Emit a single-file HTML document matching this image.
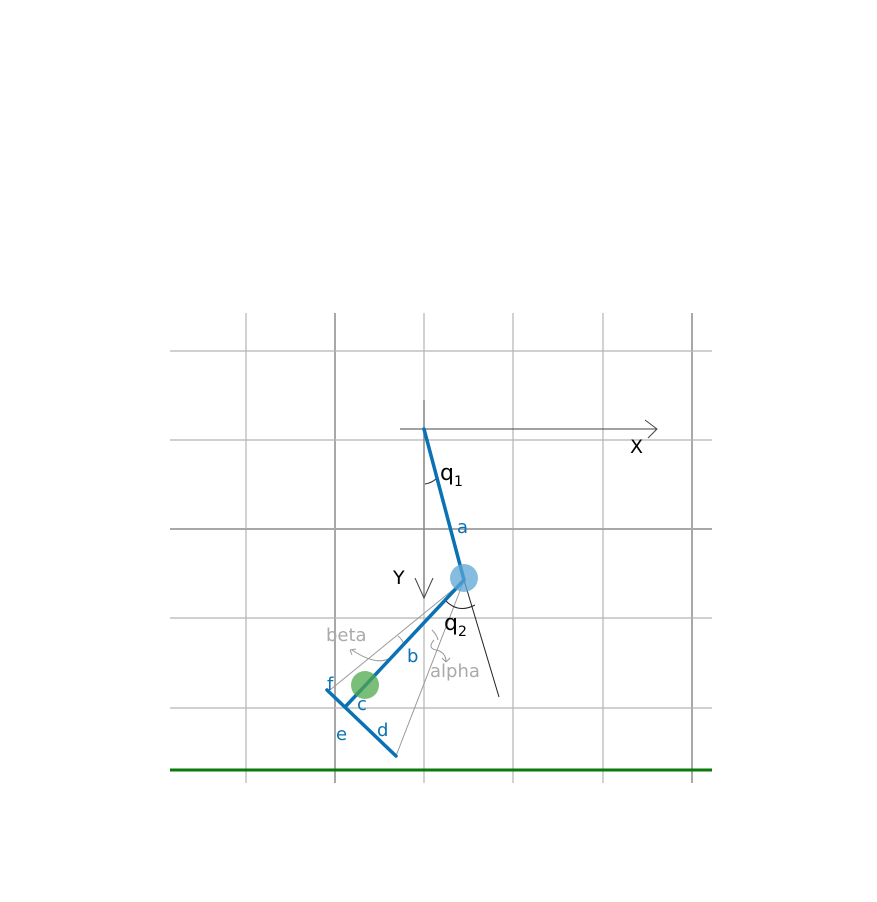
<!DOCTYPE html>
<html><head><meta charset="utf-8"><style>
html,body{margin:0;padding:0;background:#fff;}
svg{display:block;font-family:"DejaVu Sans","Liberation Sans",sans-serif;}
</style></head><body>
<svg width="877" height="902" viewBox="0 0 877 902">
<g stroke="#b4b4b4" stroke-width="1.2">
<line x1="246" y1="313" x2="246" y2="783"/>
<line x1="335" y1="313" x2="335" y2="783" stroke="#a8a8a8" stroke-width="2"/>
<line x1="424" y1="313" x2="424" y2="783"/>
<line x1="513" y1="313" x2="513" y2="783"/>
<line x1="603" y1="313" x2="603" y2="783"/>
<line x1="692" y1="313" x2="692" y2="783" stroke="#a8a8a8" stroke-width="2"/>
<line x1="170" y1="351" x2="712" y2="351"/>
<line x1="170" y1="440" x2="712" y2="440"/>
<line x1="170" y1="529" x2="712" y2="529" stroke="#a8a8a8" stroke-width="2"/>
<line x1="170" y1="618" x2="712" y2="618"/>
<line x1="170" y1="708" x2="712" y2="708"/>
</g>
<line x1="170" y1="770" x2="712" y2="770" stroke="#0a7a0a" stroke-width="3"/>
<g stroke="#444" stroke-width="1" fill="none">
<line x1="424" y1="400" x2="424" y2="598" stroke="#888" stroke-width="1.5"/>
<polyline points="415,578 424,598 433,578"/>
<line x1="400" y1="429" x2="656" y2="429"/>
<polyline points="645,420 657,429 648,438"/>
</g>
<text x="630" y="453" font-size="19" fill="#000">X</text>
<text x="393" y="584" font-size="19" fill="#000">Y</text>
<g stroke-width="1" fill="none">
<line x1="464" y1="580" x2="499" y2="697" stroke="#222"/>
<line x1="460" y1="584" x2="330" y2="690" stroke="#999"/>
<line x1="463" y1="583" x2="396" y2="756" stroke="#999"/>
<path d="M425,484 Q432,483 437,478" stroke="#222"/>
<path d="M445,600 Q458,614 475,605" stroke="#222"/>
<path d="M398,636 Q403,640 404,645" stroke="#999"/>
<path d="M432,630 Q437,635 438,640" stroke="#999"/>
<path d="M396,653 Q382,670 352,650" stroke="#999"/>
<path d="M350,650 l6,-1 M350,650 l2,5" stroke="#999"/>
<path d="M434,640 q-7,8 2,10 q10,2 10,12" stroke="#999"/>
<path d="M446,662 l-4,-4 M446,662 l4,-4" stroke="#999"/>
</g>
<g stroke="#0a72b4" stroke-width="3.5" stroke-linecap="round">
<line x1="424" y1="429" x2="464" y2="580"/>
<line x1="464" y1="580" x2="346" y2="706"/>
<line x1="327" y1="690" x2="396" y2="756"/>
</g>
<circle cx="464" cy="578" r="14" fill="#5ea6d6" opacity="0.75"/>
<circle cx="365" cy="685" r="14" fill="#4ea84e" opacity="0.75"/>
<g font-size="18">
<text x="440" y="480" font-size="22" fill="#000">q<tspan font-size="14" dy="6">1</tspan></text>
<text x="444" y="630" font-size="22" fill="#000">q<tspan font-size="14" dy="6">2</tspan></text>
<text x="457" y="533" fill="#0a72b4">a</text>
<text x="407" y="662" fill="#0a72b4">b</text>
<text x="357" y="710" fill="#0a72b4">c</text>
<text x="377" y="736" fill="#0a72b4">d</text>
<text x="336" y="740" fill="#0a72b4">e</text>
<text x="327" y="690" fill="#0a72b4">f</text>
<text x="326" y="641" fill="#aaa">beta</text>
<text x="430" y="677" fill="#aaa">alpha</text>
</g>
</svg>
</body></html>
